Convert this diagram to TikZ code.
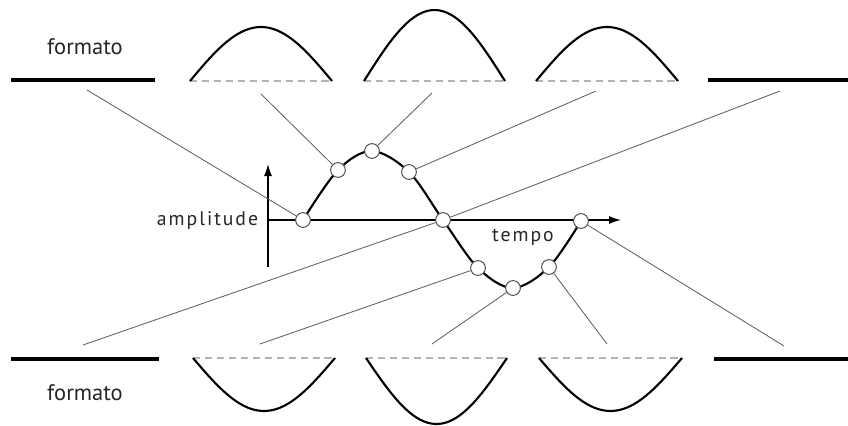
\documentclass[tikz,border=0pt]{standalone}
\usepackage{fontspec}
\setmainfont{PT Sans}
\newfontfamily\spacedfont[LetterSpace=10]{PT Sans}
\usetikzlibrary{arrows.meta}
\begin{document}
\begin{tikzpicture}[x=0.025cm,y=-0.025cm,font=\fontsize{14}{16}\selectfont,
        bar/.style={line width=2.6pt},
        wave/.style={line width=1.5pt},
        base/.style={gray!60,line width=1.2pt,dash pattern=on 5pt off 3.5pt},
        link/.style={gray!75!black,line width=0.6pt},
        dot/.style={circle,draw=black!70,fill=white,line width=0.7pt,
                    inner sep=0pt,minimum size=10.5pt},
        fmt/.style={font=\fontsize{16}{18}\selectfont,text=black!85},
        lbl/.style={font=\fontsize{14}{16}\spacedfont,text=black!85},
        axis/.style={-{Latex[length=3mm,width=2mm]},line width=0.9pt}]
        \useasboundingbox (0,0) rectangle (848,426);
        % format, top row
        \node[fmt] (ftop) at (85,47) {formato};
        \draw[bar] (11,80) -- (155,80);
        \draw[bar] (708,80) -- (848,80);
        \foreach \xa/\w/\h in {190/142/54,364/141/71,536/142/54} {
          \draw[base] (\xa,81) -- ++(\w,0);
          \draw[wave] plot[domain=0:180,samples=40] ({\xa+\x/180*\w},{81-\h*sin(\x)});
        }
        % format, bottom row
        \node[fmt] (fbot) at (85,393) {formato};
        \draw[bar] (11,359) -- (159,359);
        \draw[bar] (714,359) -- (848,359);
        \foreach \xa/\w/\h in {193/142/53,366/141/66,539/143/53} {
          \draw[base] (\xa,358) -- ++(\w,0);
          \draw[wave] plot[domain=0:180,samples=40] ({\xa+\x/180*\w},{358+\h*sin(\x)});
        }
        % axes
        \coordinate (o) at (268,220);
        \coordinate (tend) at (621,220);
        \coordinate (abot) at (268,267);
        \coordinate (atop) at (268,164);
        \draw[axis] (o) -- (tend);
        \draw[axis] (abot) -- (atop);
        \node[lbl,anchor=east] (amp) at (263,220) {amplitude};
        \node[lbl] (tempo) at (523,237) {tempo};
        % samples
        \foreach \n/\px/\py in {0/303/220,1/338/170,2/372/151,3/409/172,4/443/220,
                                5/478/268,6/513/288,7/549/267,8/581/221}
          \coordinate (p\n) at (\px,\py);
        \draw[wave] plot[smooth,tension=0.55] coordinates {(p0) (p1) (p2) (p3) (p4) (p5) (p6) (p7) (p8)};
        \foreach \n in {0,...,8}
          \node[dot] (c\n) at (p\n) {};
        % links to the format
        \coordinate (f0) at (87,90);
        \coordinate (f1) at (261,94);
        \coordinate (f2) at (432,93);
        \coordinate (f3) at (596,91);
        \coordinate (f4) at (780,91);
        \coordinate (g4) at (83,345);
        \coordinate (g5) at (260,344);
        \coordinate (g6) at (432,344);
        \coordinate (g7) at (607,344);
        \coordinate (g8) at (784,346);
        \foreach \a/\b in {f0/c0,f1/c1,f2/c2,f3/c3,f4/c4,g4/c4,g5/c5,g6/c6,g7/c7,g8/c8}
          \draw[link] (\a) -- (\b);
\end{tikzpicture}
\end{document}
